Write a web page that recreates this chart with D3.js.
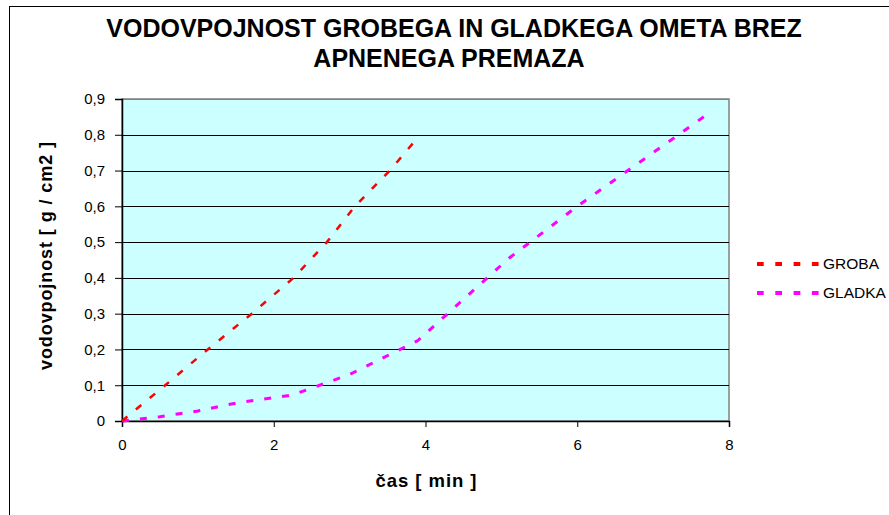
<!DOCTYPE html>
<html>
<head>
<meta charset="utf-8">
<script src="https://cdn.jsdelivr.net/npm/d3@7"></script>
<style>
body { margin: 0; background: #fff; }
svg text { font-family: Arial, "Liberation Sans", sans-serif; }
</style>
</head>
<body>
<div id="chart"></div>
<script>
// data
var seriesNames = ["GROBA", "GLADKA"];
var seriesColors = ["#ff0000", "#ff00ff"];
var grobaTime = [0, 0.57, 1.13, 1.71, 2.26, 2.7, 3.07, 3.53, 3.87];
var grobaValue = [0, 0.1, 0.2, 0.3, 0.4, 0.5, 0.6, 0.7, 0.785];
var gladkaTime = [0, 0.5, 1, 1.5, 2.25, 3, 3.9, 5.1, 6, 7.7];
var gladkaValue = [0, 0.012, 0.028, 0.05, 0.073, 0.13, 0.225, 0.455, 0.6, 0.855];
var xTicks = [0, 2, 4, 6, 8];
var yTicks = [0, 0.1, 0.2, 0.3, 0.4, 0.5, 0.6, 0.7, 0.8, 0.9];

var width = 889,
    height = 515;
var plot = { left: 122, top: 99, right: 729, bottom: 421 };

var svg = d3.select("#chart")
    .append("svg")
    .attr("width", width)
    .attr("height", height);

// outer frame (runs off right/bottom edge)
svg.append("rect")
    .attr("x", 9.5).attr("y", 6.5)
    .attr("width", 900).attr("height", 520)
    .attr("fill", "#fff")
    .attr("stroke", "#000")
    .attr("stroke-width", 1);

var x = d3.scaleLinear().domain([0, 8]).range([plot.left, plot.right]);
var y = d3.scaleLinear().domain([0, 0.9]).range([plot.bottom, plot.top]);

svg.append("rect")
    .attr("x", plot.left).attr("y", plot.top)
    .attr("width", plot.right - plot.left)
    .attr("height", plot.bottom - plot.top)
    .attr("fill", "#ccffff")
    .attr("stroke", "#808080")
    .attr("stroke-width", 1.5);

// gridlines
svg.append("g")
    .selectAll("line")
    .data(yTicks.slice(1))
    .enter().append("line")
    .attr("x1", plot.left).attr("x2", plot.right)
    .attr("y1", function (d) { return Math.round(y(d)) + 0.5; })
    .attr("y2", function (d) { return Math.round(y(d)) + 0.5; })
    .attr("stroke", function (d) { return d === 0.9 ? "#808080" : "#000"; })
    .attr("stroke-width", 1);

var fmt = function (d) { return d === 0 ? "0" : d3.format(".1f")(d).replace(".", ","); };

var yAxis = svg.append("g")
    .attr("transform", "translate(" + plot.left + ",0)")
    .call(d3.axisLeft(y).tickValues(yTicks).tickSize(7).tickPadding(10).tickFormat(fmt));

var xAxis = svg.append("g")
    .attr("transform", "translate(0," + plot.bottom + ")")
    .call(d3.axisBottom(x).tickValues(xTicks).tickSize(6).tickPadding(12).tickFormat(d3.format("d")));

[yAxis, xAxis].forEach(function (a) {
    a.select(".domain").attr("stroke", "#000").attr("stroke-width", 1.5);
    a.selectAll(".tick line").attr("stroke", "#000");
    a.selectAll("text").attr("font-size", 15).attr("fill", "#000")
        .style("font-family", "Arial, 'Liberation Sans', sans-serif");
});

var line = d3.line()
    .x(function (d) { return x(d[0]); })
    .y(function (d) { return y(d[1]); });

var groba = d3.zip(grobaTime, grobaValue);
var gladka = d3.zip(gladkaTime, gladkaValue);

svg.append("path")
    .datum(gladka)
    .attr("d", line)
    .attr("fill", "none")
    .attr("stroke", seriesColors[1])
    .attr("stroke-width", 3)
    .attr("stroke-dasharray", "7,11");

svg.append("path")
    .datum(groba)
    .attr("d", line)
    .attr("fill", "none")
    .attr("stroke", seriesColors[0])
    .attr("stroke-width", 2.5)
    .attr("stroke-dasharray", "7,11");

// title
var title = svg.append("text")
    .attr("text-anchor", "middle")
    .attr("font-weight", "bold")
    .attr("font-size", 25);
title.append("tspan").attr("x", 454).attr("y", 37).text("VODOVPOJNOST GROBEGA IN GLADKEGA OMETA BREZ");
title.append("tspan").attr("x", 449).attr("y", 67).text("APNENEGA PREMAZA");

// axis titles
svg.append("text")
    .attr("x", 426).attr("y", 487)
    .attr("text-anchor", "middle")
    .attr("font-weight", "bold")
    .attr("font-size", 18.5)
    .attr("textLength", 101)
    .attr("lengthAdjust", "spacing")
    .text("čas [ min ]");

svg.append("text")
    .attr("transform", "translate(52,256) rotate(-90)")
    .attr("text-anchor", "middle")
    .attr("font-weight", "bold")
    .attr("font-size", 18)
    .attr("textLength", 228)
    .attr("lengthAdjust", "spacing")
    .text("vodovpojnost [ g / cm2 ]");

// legend
var legend = svg.selectAll(".legend")
    .data(seriesNames)
    .enter().append("g")
    .attr("class", "legend")
    .attr("transform", function (d, i) { return "translate(757," + (264 + i * 29) + ")"; });

legend.append("line")
    .attr("x1", 0).attr("x2", 62)
    .attr("stroke", function (d, i) { return seriesColors[i]; })
    .attr("stroke-width", 4)
    .attr("stroke-dasharray", "6.7,11.6");

legend.append("text")
    .attr("x", 66).attr("dy", "0.35em")
    .attr("font-size", 15.5)
    .text(function (d) { return d; });
</script>
</body>
</html>
